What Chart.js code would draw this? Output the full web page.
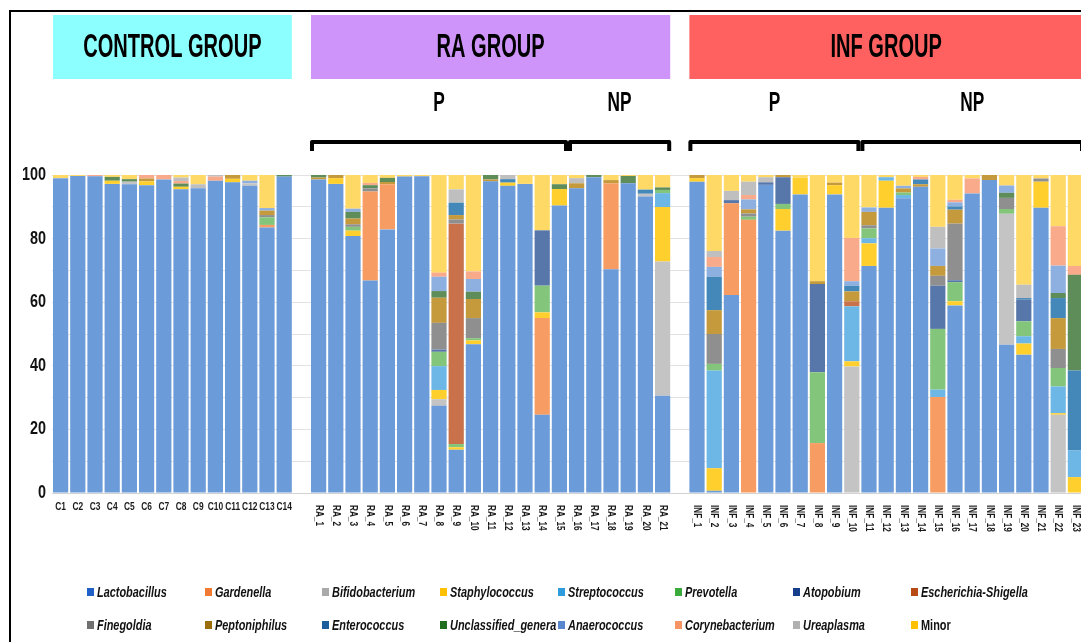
<!DOCTYPE html>
<html>
<head>
<meta charset="utf-8">
<title>Vaginal microbiota composition by group</title>
<script src="https://cdn.jsdelivr.net/npm/chart.js@4.4.1/dist/chart.umd.min.js"></script>
<style>
  html, body { margin: 0; padding: 0; background: #fff; overflow: hidden; }
  #wrap { position: relative; width: 1081px; height: 642px; overflow: hidden; }
  #chart { position: absolute; left: 0; top: 0; }
  #legend {
    position: absolute; left: 87px; top: 582px;
    display: grid; grid-template-columns: repeat(8, 117.7px); row-gap: 14px;
    font: italic bold 14px "Liberation Sans", Arial, sans-serif;
    color: #111;
  }
  .item { display: flex; align-items: center; height: 19px; white-space: nowrap; }
  .item.plain { font-style: normal; }
  .sw { width: 7px; height: 8px; margin-right: 3px; flex: none; }
  .txt { display: inline-block; transform: scaleX(0.78); transform-origin: left center; }
</style>
</head>
<body>
<div id="wrap">
  <canvas id="chart" width="1090" height="642"></canvas>
  <div id="legend"></div>
</div>
<script>
// sample names per group
const controlLabels = ['C1', 'C2', 'C3', 'C4', 'C5', 'C6', 'C7', 'C8', 'C9', 'C10', 'C11', 'C12', 'C13', 'C14'];
const raLabels = ['RA_1', 'RA_2', 'RA_3', 'RA_4', 'RA_5', 'RA_6', 'RA_7', 'RA_8', 'RA_9', 'RA_10', 'RA_11',
  'RA_12', 'RA_13', 'RA_14', 'RA_15', 'RA_16', 'RA_17', 'RA_18', 'RA_19', 'RA_20', 'RA_21'];
const infLabels = ['INF_1', 'INF_2', 'INF_3', 'INF_4', 'INF_5', 'INF_6', 'INF_7', 'INF_8', 'INF_9', 'INF_10',
  'INF_11', 'INF_12', 'INF_13', 'INF_14', 'INF_15', 'INF_16', 'INF_17', 'INF_18', 'INF_19', 'INF_20',
  'INF_21', 'INF_22', 'INF_23'];

// relative abundance (%) per genus: 14 control, 21 RA, 23 INF samples
const lactobacillus = [
  99, 99.7, 99.6, 97.2, 97.1, 96.8, 98.6, 95.5, 95.8, 98.2, 97.7, 96.6, 83.5, 99.5,
  98.6, 97.2, 80.8, 66.8, 82.9, 99.5, 99.6, 27.4, 13.6, 46.8, 98, 96.6, 97.2, 24.6, 90.4, 95.8, 99.3, 70.4, 97.4, 93.2, 30.6,
  97.9, 0.7, 62.3, 0, 96.9, 82.5, 93.9, 0, 93.9, 0, 71.4, 89.7, 92.7, 96.3, 0, 59, 94.2, 98.4, 46.6, 43.5, 89.7, 0, 0
];
const gardenella = [
  0, 0, 0, 0, 0, 0, 0, 0, 0, 0, 0, 0, 0.8, 0,
  0, 0, 0, 28, 14.2, 0, 0, 0, 0, 0, 0, 0, 0, 30.4, 0, 0, 0, 27, 0, 0, 0,
  0, 0, 28.8, 85.9, 0, 0, 0, 15.7, 0, 0, 0, 0, 0, 0, 30.2, 0, 0, 0, 0, 0, 0, 0, 0
];
const bifidobacterium = [
  0, 0, 0, 0, 0.8, 0, 0, 0, 0, 0, 0, 0.8, 0, 0,
  0, 0, 0, 0, 0, 0, 0, 2.1, 0, 0, 0, 0, 0, 0, 0, 0, 0, 0, 0, 0.9, 42.2,
  0, 0, 0, 0, 0, 0, 0, 0, 0, 39.8, 0, 0, 0, 0, 0, 0, 0, 0, 41.2, 0, 0, 24.6, 0
];
const staphylococcus = [
  0, 0, 0, 1, 0, 1.2, 0, 0.8, 0, 0, 1.1, 0, 0, 0,
  0, 1.8, 1.7, 0, 0, 0, 0, 2.9, 0.8, 1.2, 0, 1, 0, 1.8, 5.2, 0, 0, 0, 0, 0, 17.1,
  1.1, 7.1, 0, 0, 0, 6.8, 5.3, 0, 2.9, 1.6, 7.1, 8.5, 0, 0, 0, 1.3, 0, 0, 0, 3.5, 8.2, 0.5, 5
];
const streptococcus = [
  0, 0, 0, 0, 0, 0, 0, 0, 0, 0, 0, 0, 0, 0,
  0, 0, 0, 0, 0, 0, 0, 7.5, 0, 0, 0, 0, 0, 0, 0, 0, 0, 0, 0, 0, 4.4,
  0, 30.7, 0, 0, 0, 0, 0, 0, 0, 17.3, 1.6, 1.1, 1, 0, 2.3, 0, 0, 0, 0, 2.3, 0, 8.4, 8.4
];
const prevotella = [
  0, 0, 0, 0, 0, 0, 0, 0, 0, 0, 0, 0, 2.4, 0,
  0, 0, 1.2, 0, 0, 0, 0, 4.5, 1, 0.7, 0, 0, 0, 8.4, 0, 0, 0, 0, 0, 0, 1,
  0, 2.1, 0, 1, 0, 1.6, 0, 22.3, 0, 0, 3.1, 0, 0.8, 0, 19.1, 6, 0, 0, 1.5, 4.7, 0, 5.8, 0
];
const atopobium = [
  0, 0, 0, 0, 0, 0, 0, 0, 0, 0, 0, 0, 0, 0,
  0, 0, 0, 0, 0, 0, 0, 0.7, 0, 0, 0, 0, 0, 17.4, 0, 0, 0, 0, 0, 0, 0,
  0, 0, 1, 0, 0.8, 8.4, 0, 27.7, 0, 0, 0, 0, 0, 0, 13.6, 0.6, 0, 0, 0, 6.8, 0, 0, 0
];
const escherichiaShigella = [
  0, 0, 0, 0, 0, 0, 0, 0, 0, 0, 0, 0, 0, 0,
  0, 0, 0, 0, 0, 0, 0, 0, 69.3, 0, 0, 0, 0, 0, 0, 0, 0, 0, 0, 0, 0,
  0, 0, 0, 0, 0, 0, 0, 0, 0, 1.6, 0, 0, 0, 0, 0, 0, 0, 0, 0, 0, 0, 0, 0
];
const finegoldia = [
  0, 0, 0, 0, 0, 0, 0, 0, 0, 0, 0, 0, 0.7, 0,
  0, 0, 0.8, 1, 0, 0, 0, 8.4, 1.3, 6.3, 0, 0, 0, 0, 0, 0, 0, 0, 0, 0, 0,
  0, 9.4, 0, 1, 0, 0, 0, 0, 0, 0, 1, 0, 0, 0, 3.1, 17.8, 0, 0, 3.5, 0, 1, 6, 0
];
const peptoniphilus = [
  0, 0, 0, 0, 0, 0.9, 0, 0, 0, 0, 1.2, 0, 1.4, 0,
  0.6, 1, 1.8, 0, 0.7, 0, 0, 7.9, 1.4, 6, 0.6, 0, 0, 0, 0, 1.6, 0, 1, 0, 0, 0,
  1, 7.5, 0, 1.3, 0, 0.7, 0, 0.9, 0.8, 3.1, 4.2, 0, 1.3, 0.8, 3.1, 4.4, 0, 1.6, 0, 0, 0, 9.7, 0
];
const enterococcus = [
  0, 0, 0, 0, 0, 0, 0, 0, 0, 0, 0, 0, 0, 0,
  0, 0, 0, 0, 0, 0, 0, 0, 3.9, 0, 0, 1.1, 0, 0, 0, 0, 0, 0, 0, 1.3, 0,
  0, 10.5, 0, 0, 0, 0, 0, 0, 0, 1.8, 0, 0, 0, 1.5, 0, 1, 0, 0, 0, 0.5, 0, 6.3, 25.1
];
const unclassifiedGenera = [
  0, 0, 0, 1.2, 0.8, 0, 0, 1, 0, 0, 0, 0, 0, 0.5,
  0.8, 0, 2.1, 1, 1.3, 0, 0, 2.1, 0, 2.3, 1.4, 0, 0, 0, 1.5, 0, 0.7, 0, 2.3, 0, 0.8,
  0, 0, 0, 0, 0, 0, 0, 0, 0, 0, 0, 0, 0, 0, 0, 0, 0, 0, 1.6, 0, 0, 1.6, 30.1
];
const anaerococcus = [
  0, 0, 0, 0, 0, 0, 0, 0, 0, 0, 0, 0.8, 0.8, 0,
  0, 0, 1, 0, 0, 0, 0, 4.5, 0, 4, 0, 0, 0, 0, 0, 0, 0, 0, 0, 0, 0,
  0, 3.1, 0, 3.1, 0, 0, 0, 0, 0, 1.4, 1.4, 0, 0.8, 0, 5.5, 1.3, 0, 0, 2.3, 0, 0, 8.6, 0
];
const corynebacterium = [
  0, 0, 0.4, 0, 0, 1.1, 1.4, 0.8, 0, 1.3, 0, 0, 0, 0,
  0, 0, 0, 0.7, 0, 0, 0, 1.3, 0, 2.4, 0, 0, 0, 0, 0, 0, 0, 0, 0, 0, 0,
  0, 3.1, 0, 1.4, 0, 0, 0, 0, 0, 13.6, 0, 0, 0, 0.8, 0, 0.8, 4.7, 0, 0, 0, 0, 12.4, 2.8
];
const ureaplasma = [
  0, 0, 0, 0, 0, 0, 0, 1.1, 1.3, 0.5, 0, 0, 0, 0,
  0, 0, 0, 0, 0, 0, 0, 0, 4.2, 0, 0, 1.3, 0, 0, 0, 1.6, 0, 0, 0, 0, 0,
  0, 1.9, 2.9, 4.2, 1.6, 0, 0, 0, 0, 0, 0, 0, 0, 0, 6.8, 0, 0, 0, 0, 4.2, 0, 0, 0
];
const minor = [
  1, 0.3, 0, 0.6, 1.3, 0, 0, 0.8, 2.9, 0, 0, 1.8, 10.4, 0,
  0, 0, 10.6, 2.5, 0.9, 0.5, 0.4, 30.7, 4.5, 30.3, 0, 0, 2.8, 17.4, 2.9, 1, 0, 1.6, 0.3, 4.6, 3.9,
  0, 23.9, 5, 2.1, 0.7, 0, 0.8, 33.4, 2.4, 19.8, 10.2, 0.7, 3.4, 0.6, 16.3, 7.8, 1.1, 0, 3.3, 34.5, 1.1, 16.1, 28.6
];

const genusNames = ['Lactobacillus', 'Gardenella', 'Bifidobacterium', 'Staphylococcus', 'Streptococcus',
  'Prevotella', 'Atopobium', 'Escherichia-Shigella', 'Finegoldia', 'Peptoniphilus', 'Enterococcus',
  'Unclassified_genera', 'Anaerococcus', 'Corynebacterium', 'Ureaplasma', 'Minor'];
const genusValues = [lactobacillus, gardenella, bifidobacterium, staphylococcus, streptococcus,
  prevotella, atopobium, escherichiaShigella, finegoldia, peptoniphilus, enterococcus,
  unclassifiedGenera, anaerococcus, corynebacterium, ureaplasma, minor];
const barColors = ['#6b9bd8', '#f79d63', '#c4c4c4', '#ffcf2e', '#6cb7e6', '#83c57a', '#5776a9', '#c9714a',
  '#8f8f8f', '#c49a3d', '#4487b9', '#5e8d59', '#8db0e0', '#f8aa8a', '#bfbfbf', '#ffd966'];
const legendColors = ['#1f5fc6', '#f07a32', '#a9a9a9', '#ffc000', '#2e9cdb', '#3aab3a', '#173d8d', '#b84a15',
  '#707070', '#9c6e0b', '#1a5f9c', '#1f6e1f', '#5a86d0', '#f59566', '#b0b0b0', '#ffc000'];

// header bands, sub-group brackets
const groupNames = ['CONTROL GROUP', 'RA GROUP', 'INF GROUP'];
const groupColors = ['#8cffff', '#cf94fa', '#ff6161'];
const groupSpans = [['C1', 'C14'], ['RA_1', 'RA_21'], ['INF_1', 'INF_23']];
const subLabels = ['P', 'NP', 'P', 'NP'];
const subSpans = [['RA_1', 'RA_15'], ['RA_16', 'RA_21'], ['INF_1', 'INF_10'], ['INF_11', 'INF_23']];

// one empty slot between the groups
const categories = [...controlLabels, '', ...raLabels, '', ...infLabels];
function withGaps(arr) {
  const a = controlLabels.length, b = a + raLabels.length;
  return [...arr.slice(0, a), null, ...arr.slice(a, b), null, ...arr.slice(b)];
}

// Liberation Sans squeezed horizontally stands in for a narrow face
const FONT = '"Liberation Sans", Arial, sans-serif';
const BAR_PCT = 0.885;

function squeezedText(ctx, text, x, y, size, sx, align) {
  ctx.save();
  ctx.translate(x, y);
  ctx.scale(sx, 1);
  ctx.font = 'bold ' + size + 'px ' + FONT;
  ctx.textAlign = align || 'center';
  ctx.textBaseline = 'middle';
  ctx.fillText(text, 0, 0);
  ctx.restore();
}

const decorations = {
  id: 'decorations',
  afterDraw(chart) {
    const ctx = chart.ctx;
    const xs = chart.scales.x;
    const ys = chart.scales.y;
    const half = xs.width / categories.length * BAR_PCT / 2;
    const edgeL = name => xs.getPixelForValue(categories.indexOf(name)) - half;
    const edgeR = name => xs.getPixelForValue(categories.indexOf(name)) + half;

    ctx.save();
    // outer frame (top and left)
    ctx.fillStyle = '#000';
    ctx.fillRect(9, 10, 1100, 2);
    ctx.fillRect(9, 10, 2, 640);

    // y tick labels every 20 %
    ctx.fillStyle = '#111';
    ys.ticks.forEach(t => {
      if (t.value % 20 !== 0) return;
      squeezedText(ctx, String(t.value), chart.chartArea.left - 6, ys.getPixelForValue(t.value), 18, 0.8, 'right');
    });

    // group bands
    groupNames.forEach((name, i) => {
      const l = edgeL(groupSpans[i][0]), r = edgeR(groupSpans[i][1]);
      ctx.fillStyle = groupColors[i];
      ctx.fillRect(l, 15, r - l, 64);
      ctx.fillStyle = '#000';
      squeezedText(ctx, name, (l + r) / 2, 48, 34, 0.59);
    });

    // P / NP labels and brackets
    ctx.strokeStyle = '#000';
    ctx.lineJoin = 'round';
    subLabels.forEach((lab, i) => {
      const l = edgeL(subSpans[i][0]), r = edgeR(subSpans[i][1]);
      ctx.fillStyle = '#000';
      squeezedText(ctx, lab, (l + r) / 2, 104, 27, 0.64);
      ctx.lineWidth = 4;
      ctx.beginPath();
      ctx.moveTo(l + 1, 151);
      ctx.lineTo(l + 1, 142);
      ctx.lineTo(r - 1, 142);
      ctx.lineTo(r - 1, 151);
      ctx.stroke();
    });

    // sample labels under the bars
    ctx.fillStyle = '#1a1a1a';
    const base = chart.chartArea.bottom;
    categories.forEach((name, i) => {
      if (!name) return;
      const x = xs.getPixelForValue(i);
      if (controlLabels.includes(name)) {
        squeezedText(ctx, name, x, base + 14, 10.5, 0.8);
      } else {
        ctx.save();
        ctx.translate(x, base + 12);
        ctx.rotate(Math.PI / 2);
        squeezedText(ctx, name, 0, 0, 10, 0.82, 'left');
        ctx.restore();
      }
    });
    ctx.restore();
  }
};

const chart = new Chart(document.getElementById('chart'), {
  type: 'bar',
  data: {
    labels: categories,
    datasets: genusNames.map((name, i) => ({
      label: name,
      data: withGaps(genusValues[i]),
      backgroundColor: barColors[i],
      borderWidth: 0
    }))
  },
  options: {
    responsive: false,
    animation: false,
    devicePixelRatio: 1,
    layout: { padding: { top: 175, bottom: 149, left: 0, right: 6 } },
    datasets: { bar: { barPercentage: BAR_PCT, categoryPercentage: 1 } },
    plugins: { legend: { display: false }, tooltip: { enabled: false } },
    scales: {
      x: {
        stacked: true,
        grid: { display: false },
        border: { color: '#d2d2d2', width: 1 },
        ticks: { display: false },
        afterFit: s => { s.height = 0; }
      },
      y: {
        stacked: true,
        min: 0,
        max: 100,
        border: { display: false },
        grid: { color: '#e2e2e2', drawTicks: false },
        ticks: { stepSize: 10, display: false },
        afterFit: s => { s.width = 52; }
      }
    }
  },
  plugins: [decorations]
});

// legend, two rows of eight
const legendEl = document.getElementById('legend');
genusNames.forEach((name, i) => {
  const item = document.createElement('div');
  item.className = name === 'Minor' ? 'item plain' : 'item';
  const sw = document.createElement('span');
  sw.className = 'sw';
  sw.style.background = legendColors[i];
  const txt = document.createElement('span');
  txt.className = 'txt';
  txt.textContent = name;
  item.appendChild(sw);
  item.appendChild(txt);
  legendEl.appendChild(item);
});
</script>
</body>
</html>
